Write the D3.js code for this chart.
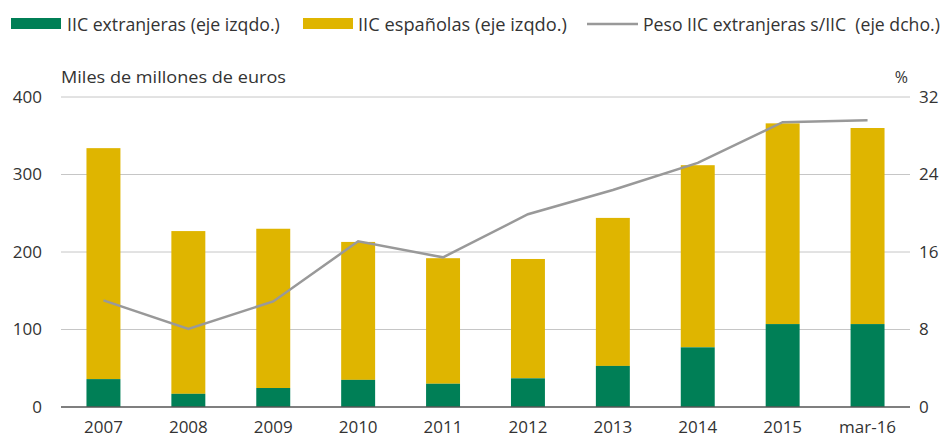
<!DOCTYPE html>
<html><head><meta charset="utf-8">
<script src="https://cdn.jsdelivr.net/npm/d3@7"></script>
<style>body{margin:0;background:#fff}svg{display:block;font-family:"Open Sans","Noto Sans",sans-serif}</style>
</head><body><svg id="c" width="946" height="443"></svg>
<script>
const categories = ["2007","2008","2009","2010","2011","2012","2013","2014","2015","mar-16"];
const iicExtranjeras = [36,17,24.5,35,30,37,53,77,107,107];
const iicTotal = [334,227,230,213,192,191,244,312,366,360];
const iicEspanolas = iicTotal.map((t,i)=>t-iicExtranjeras[i]);
const pesoExtranjeras = [11.0,8.05,10.9,17.1,15.45,19.9,22.4,25.2,29.4,29.6];
const leftTicks = [0,100,200,300,400];
const rightTicks = [0,8,16,24,32];

const svg = d3.select("#c");
const L=61,R=910,T=97,B=407;
const x = d3.scaleBand().domain(categories).range([L,R]).paddingInner(0.6).paddingOuter(0.3);
const y = d3.scaleLinear().domain([0,400]).range([B,T]);
const y2 = d3.scaleLinear().domain([0,32]).range([B,T]);
const green="#007f56", yellow="#dfb500", gray="#999999", txt="#333";

// gridlines
svg.append("g").selectAll("line").data(leftTicks.filter(d=>d>0)).join("line")
  .attr("x1",L).attr("x2",R).attr("y1",d=>y(d)).attr("y2",d=>y(d))
  .attr("stroke","#c6c6c6").attr("stroke-width",1);

// bars
const g = svg.append("g");
categories.forEach((c,i)=>{
  g.append("rect").attr("x",x(c)).attr("width",x.bandwidth())
    .attr("y",y(iicTotal[i])).attr("height",y(iicExtranjeras[i])-y(iicTotal[i])).attr("fill",yellow);
  g.append("rect").attr("x",x(c)).attr("width",x.bandwidth())
    .attr("y",y(iicExtranjeras[i])).attr("height",y(0)-y(iicExtranjeras[i])).attr("fill",green);
});

// baseline
svg.append("line").attr("x1",L).attr("x2",R).attr("y1",y(0)).attr("y2",y(0)).attr("stroke","#555").attr("stroke-width",1.5);

// line
const line = d3.line().x((d,i)=>x(categories[i])+x.bandwidth()/2).y(d=>y2(d));
svg.append("path").datum(pesoExtranjeras).attr("d",line).attr("fill","none").attr("stroke",gray).attr("stroke-width",2.5);

// axes
const fs = 17;
const ax = svg.append("g").attr("transform",`translate(0,${B})`).call(d3.axisBottom(x).tickSize(0).tickPadding(14));
ax.select(".domain").remove();
ax.selectAll("text").attr("font-size",fs).attr("fill",txt).attr("font-family","Open Sans");
const ay = svg.append("g").attr("transform",`translate(42,0)`).call(d3.axisLeft(y).tickValues(leftTicks).tickSize(0).tickPadding(0));
ay.select(".domain").remove();
ay.selectAll("text").attr("font-size",fs).attr("fill",txt).attr("font-family","Open Sans");
const ay2 = svg.append("g").attr("transform",`translate(919,0)`).call(d3.axisRight(y2).tickValues(rightTicks).tickSize(0).tickPadding(0));
ay2.select(".domain").remove();
ay2.selectAll("text").attr("font-size",fs).attr("fill",txt).attr("font-family","Open Sans");

// condensed text helper: scales horizontally to a target width
function fitText(tx, ty, str, size, w){
  const t = svg.append("text").attr("x",0).attr("y",0).text(str)
    .attr("font-size",size).attr("fill",txt).style("white-space","pre");
  const nat = t.node().getComputedTextLength();
  t.attr("transform",`translate(${tx},${ty}) scale(${w/nat},1)`);
  return t;
}

// axis titles
fitText(L, 83, "Miles de millones de euros", 16, 225);
svg.append("text").attr("x",908).attr("y",83).attr("text-anchor","end").text("%")
  .attr("font-size",16).attr("fill",txt);

// legend
const leg = [
  {t:"IIC extranjeras (eje izqdo.)", c:green, type:"rect", x:11, tx:67, w:213},
  {t:"IIC españolas (eje izqdo.)", c:yellow, type:"rect", x:303, tx:358, w:209},
  {t:"Peso IIC extranjeras s/IIC  (eje dcho.)", c:gray, type:"line", x:587, tx:643, w:297}
];
leg.forEach(l=>{
  if(l.type==="rect") svg.append("rect").attr("x",l.x).attr("y",18).attr("width",50).attr("height",11).attr("fill",l.c);
  else svg.append("line").attr("x1",l.x).attr("x2",l.x+51).attr("y1",24).attr("y2",24).attr("stroke",l.c).attr("stroke-width",2.5);
  fitText(l.tx, 31, l.t, 19, l.w);
});
</script></body></html>
